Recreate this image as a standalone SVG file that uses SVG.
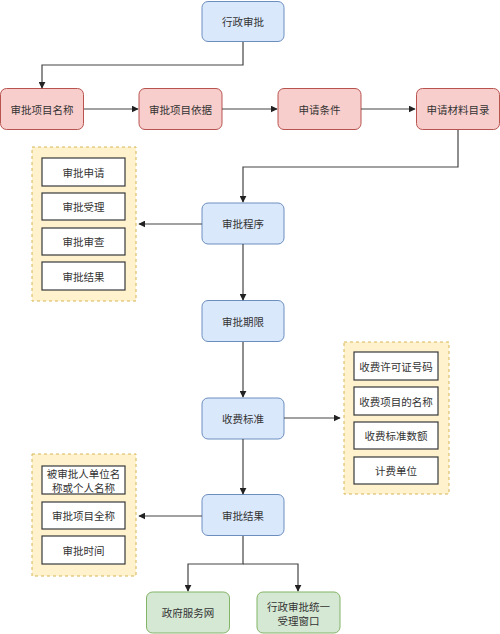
<svg xmlns="http://www.w3.org/2000/svg" width="500" height="634" viewBox="0 0 500 634">
<style>
text{font-family:"Noto Sans CJK SC","Liberation Sans",sans-serif;font-size:10.5px;fill:#333;text-anchor:middle;dominant-baseline:central}
.blue{fill:#dae8fc;stroke:#6c8ebf;stroke-width:1}
.red{fill:#f8cecc;stroke:#b85450;stroke-width:1}
.green{fill:#d5e8d4;stroke:#82b366;stroke-width:1}
.grp{fill:#fff2cc;stroke:#d6b656;stroke-width:1;stroke-dasharray:3 3}
.item{fill:#fff;stroke:#36393d;stroke-width:1.2}
.conn path{fill:none;stroke:#444;stroke-width:1.2;marker-end:url(#arr)}
</style>
<defs>
<marker id="arr" viewBox="0 0 10 10" refX="9" refY="5" markerWidth="7" markerHeight="7" markerUnits="userSpaceOnUse" orient="auto">
<path d="M0,0 L10,5 L0,10 z" fill="#222"/>
</marker>
</defs>
<rect width="500" height="634" fill="#fff"/>
<g id="n-top"><rect class="blue" x="202" y="1.5" width="82" height="40" rx="6"/><text x="243" y="21.5">行政审批</text></g>
<g id="n-r1"><rect class="red" x="0.5" y="88.5" width="83" height="41" rx="6"/><text x="42" y="109">审批项目名称</text></g>
<g id="n-r2"><rect class="red" x="139" y="88.5" width="83" height="41" rx="6"/><text x="180.5" y="109">审批项目依据</text></g>
<g id="n-r3"><rect class="red" x="278" y="88.5" width="83" height="41" rx="6"/><text x="319.5" y="109">申请条件</text></g>
<g id="n-r4"><rect class="red" x="416.5" y="88.5" width="83" height="41" rx="6"/><text x="458" y="109">申请材料目录</text></g>
<g id="g1">
<rect class="grp" x="32" y="147" width="104" height="154"/>
<g id="g1-a"><rect class="item" x="42" y="158" width="83" height="28"/><text x="83.5" y="172">审批申请</text></g>
<g id="g1-b"><rect class="item" x="42" y="193" width="83" height="27"/><text x="83.5" y="206.5">审批受理</text></g>
<g id="g1-c"><rect class="item" x="42" y="228" width="83" height="27"/><text x="83.5" y="241.5">审批审查</text></g>
<g id="g1-d"><rect class="item" x="42" y="262" width="83" height="28"/><text x="83.5" y="276">审批结果</text></g>
</g>
<g id="n-proc"><rect class="blue" x="202" y="203" width="82" height="41" rx="6"/><text x="243" y="223.5">审批程序</text></g>
<g id="n-term"><rect class="blue" x="202" y="300.5" width="82" height="41" rx="6"/><text x="243" y="321">审批期限</text></g>
<g id="n-fee"><rect class="blue" x="202" y="398" width="82" height="41" rx="6"/><text x="243" y="418.5">收费标准</text></g>
<g id="g2">
<rect class="grp" x="344" y="342" width="105" height="152"/>
<g id="g2-a"><rect class="item" x="354" y="352" width="84" height="28"/><text x="396" y="366">收费许可证号码</text></g>
<g id="g2-b"><rect class="item" x="354" y="387" width="84" height="28"/><text x="396" y="401">收费项目的名称</text></g>
<g id="g2-c"><rect class="item" x="354" y="422" width="84" height="27"/><text x="396" y="435.5">收费标准数额</text></g>
<g id="g2-d"><rect class="item" x="354" y="457" width="84" height="27"/><text x="396" y="470.5">计费单位</text></g>
</g>
<g id="n-res"><rect class="blue" x="202" y="494.5" width="82" height="41" rx="6"/><text x="243" y="515">审批结果</text></g>
<g id="g3">
<rect class="grp" x="32" y="454" width="104" height="122"/>
<g id="g3-a"><rect class="item" x="42" y="466" width="83" height="28"/><text x="83.5" y="473.5">被审批人单位名</text><text x="83.5" y="487">称或个人名称</text></g>
<g id="g3-b"><rect class="item" x="42" y="502" width="83" height="27"/><text x="83.5" y="515.5">审批项目全称</text></g>
<g id="g3-c"><rect class="item" x="42" y="536" width="83" height="28"/><text x="83.5" y="550">审批时间</text></g>
</g>
<g id="n-web"><rect class="green" x="146.5" y="592" width="83" height="41" rx="6"/><text x="188" y="612.5">政府服务网</text></g>
<g id="n-win"><rect class="green" x="257" y="592" width="83" height="41" rx="6"/><text x="298.5" y="606">行政审批统一</text><text x="298.5" y="620">受理窗口</text></g>
<g class="conn" id="connectors">
<path d="M243,42 V65 H42 V88"/>
<path d="M84,109 H138"/>
<path d="M222,109 H277"/>
<path d="M361,109 H415"/>
<path d="M458,130 V167 H243 V202"/>
<path d="M202,224 H139"/>
<path d="M243,244 V300"/>
<path d="M243,342 V397"/>
<path d="M284,418 H340"/>
<path d="M243,439 V494"/>
<path d="M202,516 H139"/>
<path d="M243,536 V564 H188 V591"/>
<path d="M243,564 H298 V591"/>
</g>
</svg>
